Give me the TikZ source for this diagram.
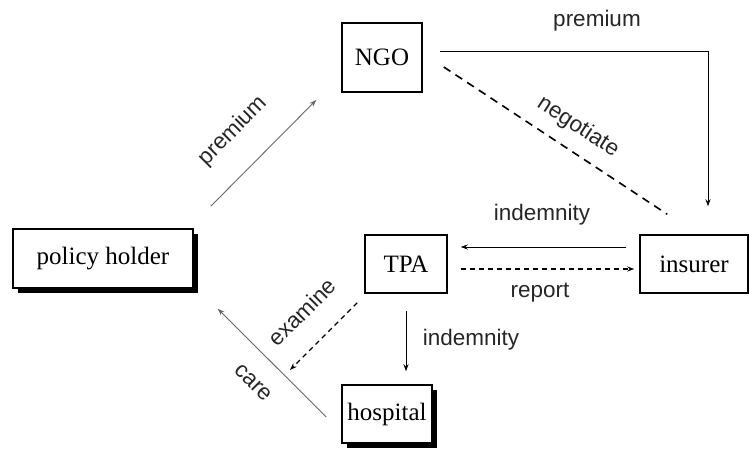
\documentclass[tikz,border=0pt]{standalone}
\usepackage{fontspec}
\setmainfont{Liberation Serif}
\setsansfont{Liberation Sans}
\usetikzlibrary{arrows.meta,shadows}
\begin{document}
\begin{tikzpicture}[x=1pt,y=-1pt,
  box/.style={draw=black,line width=1.5pt,fill=white,inner sep=0pt,font=\fontsize{25}{30}\selectfont},
  shbox/.style={box,drop shadow={shadow xshift=5pt,shadow yshift=-5pt,fill=black,opacity=1}},
  lab/.style={font=\sffamily\fontsize{22.5}{26}\selectfont,text=black!85,inner sep=1pt},
  arr/.style={line width=1pt,-{Stealth[length=7pt,width=5pt]}},
  garr/.style={arr,draw=gray!80!black,line width=0.9pt},
  dsh/.style={line width=1.6pt,dash pattern=on 8pt off 6pt},
  dsa/.style={arr,line width=1.2pt,dash pattern=on 5pt off 4pt}]
\useasboundingbox (0,0) rectangle (750,450);
\node[shbox,minimum width=180pt,minimum height=59pt] (ph) at (103,258.5) {policy holder};
\node[box,minimum width=80pt,minimum height=69pt] (ngo) at (382,57.5) {NGO};
\node[box,minimum width=82pt,minimum height=58pt] (tpa) at (406,264) {TPA};
\node[box,minimum width=108pt,minimum height=58pt] (ins) at (694,264) {insurer};
\node[shbox,minimum width=90pt,minimum height=58pt] (hos) at (387,414) {hospital};
\coordinate (ex) at (290,370);
% NGO -> insurer premium
\draw[arr] ([xshift=17pt,yshift=6.5pt]ngo.east) -| ([xshift=14pt,yshift=28pt]ins.north);
\node[lab] (l1) at (597,21) {premium};
% negotiate
\draw[dsh] ([xshift=21pt,yshift=-9.5pt]ngo.east) -- ([xshift=28pt,yshift=20pt]ins.north west);
\node[lab,rotate=-33] (l2) at (578,127) {negotiate};
% policy holder -> NGO premium
\draw[garr] ([xshift=17pt,yshift=22pt]ph.north east) -- ([xshift=-25pt,yshift=-42.5pt]ngo.west);
\node[lab,rotate=45] (l3) at (233,131) {premium};
% insurer -> TPA indemnity
\draw[arr] ([xshift=-13pt,yshift=17pt]ins.west) -- ([xshift=13pt,yshift=17pt]tpa.east);
\node[lab] (l4) at (542,215) {indemnity};
% TPA -> insurer report
\draw[dsa] ([xshift=13pt,yshift=-5pt]tpa.east) -- ([xshift=-5pt,yshift=-5pt]ins.west);
\node[lab] (l5) at (540,293) {report};
% TPA -> hospital indemnity
\draw[arr] ([yshift=-17pt]tpa.south) -- ([xshift=19pt,yshift=13pt]hos.north);
\node[lab] (l6) at (471,340) {indemnity};
% examine
\draw[dsa] ([xshift=-7pt,yshift=-9pt]tpa.south west) -- (ex);
\node[lab,rotate=45] (l7) at (302,312) {examine};
% care
\draw[garr] ([xshift=-15pt,yshift=-3pt]hos.west) -- ([xshift=24pt,yshift=-20pt]ph.south east);
\node[lab,rotate=-45] (l8) at (253,383) {care};
\end{tikzpicture}
\end{document}
